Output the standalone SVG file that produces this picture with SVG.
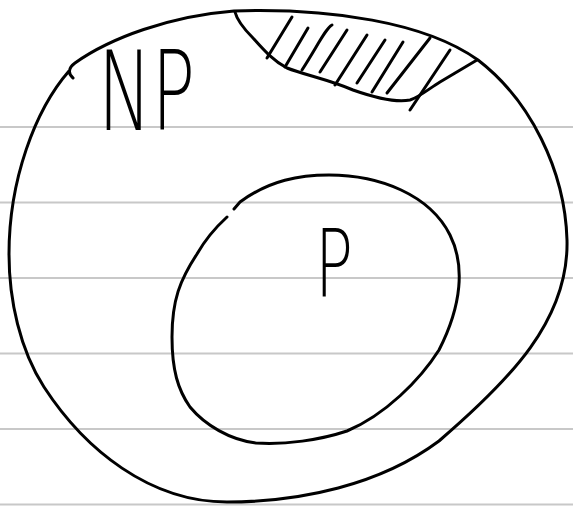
<svg xmlns="http://www.w3.org/2000/svg" width="573" height="508" viewBox="0 0 573 508">
  <style>
    .rule { stroke: #c8c8c8; stroke-width: 2; }
    .ink { fill: none; stroke: #000; stroke-width: 3; stroke-linecap: round; stroke-linejoin: round; }
    .hand { font-family: "DejaVu Sans", "Liberation Sans", sans-serif; font-weight: 200; fill: #000; }
  </style>
  <rect width="573" height="508" fill="#fff"/>
  <g id="paper-lines">
    <line class="rule" x1="0" y1="127" x2="573" y2="127"/>
    <line class="rule" x1="0" y1="202.5" x2="573" y2="202.5"/>
    <line class="rule" x1="0" y1="278" x2="573" y2="278"/>
    <line class="rule" x1="0" y1="353.5" x2="573" y2="353.5"/>
    <line class="rule" x1="0" y1="429" x2="573" y2="429"/>
    <line class="rule" x1="0" y1="504.5" x2="573" y2="504.5"/>
  </g>
  <g id="np">
    <path class="ink" d="M73,78 C68,74 68,68 75,63 C110,38 170,16 234,11 C330,8 425,22 478,60 C530,100 565,170 567,240 C569,320 510,380 439,441 C380,485 300,502 227,502 C150,502 85,450 44,387 C20,350 9,300 9,254 C9,180 35,110 69,71"/>
    <text class="hand" x="98" y="130" font-size="110" textLength="97" lengthAdjust="spacingAndGlyphs">NP</text>
  </g>
  <g id="hard">
    <path class="ink" d="M235,12 C237,20 245,30 253,38 C262,48 272,60 287,68 C305,75 330,80 353,90 C370,96 395,103 410,100 C418,98 430,88 440,82 L477,60"/>
    <path class="ink" d="M292,17 L267,58 M308,28 L285,67 M332,25 C326,28 318,45 302,70 M347,30 L320,72 M367,35 L335,85 M385,40 L357,83 M403,42 L372,92 M430,38 L387,93 M450,50 L410,110"/>
  </g>
  <g id="p">
    <path class="ink" d="M234,209 L240,202 C270,180 300,175 329,175 C380,175 430,195 450,235 C465,265 462,305 439,350 C420,380 385,415 347,431 C320,440 285,445 256,443 C230,440 205,425 190,407 C178,390 172,370 172,337 C172,300 180,280 197,254 C205,240 215,228 227,217"/>
    <text class="hand" x="315" y="297" font-size="95" textLength="38" lengthAdjust="spacingAndGlyphs">P</text>
  </g>
</svg>
